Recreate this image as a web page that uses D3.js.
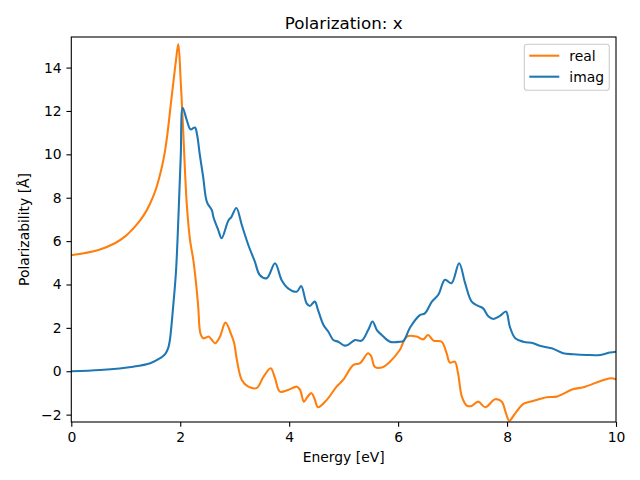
<!DOCTYPE html>
<html>
<head>
<meta charset="utf-8">
<script src="https://cdn.jsdelivr.net/npm/d3@7"></script>
<style>
  html, body { margin: 0; padding: 0; background: #fff; }
  svg { display: block; }
  text { font-family: "DejaVu Sans", sans-serif; fill: #000; }
</style>
</head>
<body>
<svg id="chart" width="640" height="480"></svg>
<script>
const title = "Polarization: x";
const xLabel = "Energy [eV]";
const yLabel = "Polarizability [Å]";
const seriesNames = ["real", "imag"];
const seriesColors = ["#ff7f0e", "#1f77b4"];
const xTicks = [0, 2, 4, 6, 8, 10];
const yTicks = [-2, 0, 2, 4, 6, 8, 10, 12, 14];

const realE = [0, 0.25, 0.5, 0.8, 1.0, 1.11, 1.2, 1.29, 1.37, 1.44, 1.5, 1.56, 1.62, 1.67, 1.72, 1.76, 1.80, 1.84, 1.88, 1.92, 1.965, 2.01, 2.045, 2.07, 2.12, 2.18, 2.24, 2.29, 2.33, 2.37, 2.42, 2.47, 2.52, 2.58, 2.64, 2.73, 2.83, 2.94, 2.99, 3.04, 3.13, 3.25, 3.40, 3.53, 3.66, 3.74, 3.83, 3.98, 4.14, 4.20, 4.27, 4.33, 4.41, 4.47, 4.53, 4.69, 4.87, 4.99, 5.18, 5.30, 5.45, 5.51, 5.57, 5.70, 5.85, 6.03, 6.16, 6.34, 6.46, 6.55, 6.65, 6.80, 6.89, 6.95, 7.04, 7.10, 7.17, 7.26, 7.35, 7.47, 7.60, 7.78, 7.90, 7.98, 8.04, 8.15, 8.30, 8.48, 8.73, 8.91, 9.22, 9.40, 9.77, 9.92, 10.0];
const realV = [5.35, 5.45, 5.59, 5.90, 6.24, 6.51, 6.76, 7.05, 7.36, 7.70, 8.04, 8.45, 8.98, 9.5, 10.15, 10.85, 11.7, 12.6, 13.45, 14.3, 15.08, 13.3, 11.6, 10.2, 7.7, 6.05, 5.13, 4.06, 2.98, 1.75, 1.52, 1.55, 1.6, 1.45, 1.29, 1.6, 2.24, 1.67, 1.3, 0.52, -0.40, -0.71, -0.78, -0.25, 0.14, -0.32, -0.94, -0.86, -0.71, -0.86, -1.40, -1.2, -1.01, -1.3, -1.66, -1.32, -0.71, -0.40, 0.29, 0.37, 0.83, 0.67, 0.21, 0.17, 0.44, 0.98, 1.60, 1.60, 1.47, 1.67, 1.41, 1.36, 0.83, 0.40, 0.44, -0.09, -1.17, -1.58, -1.60, -1.40, -1.66, -1.29, -1.40, -1.94, -2.28, -1.94, -1.51, -1.37, -1.20, -1.17, -0.82, -0.74, -0.40, -0.32, -0.37];

const imagE = [0, 0.53, 1.14, 1.45, 1.63, 1.72, 1.78, 1.81, 1.87, 1.92, 1.95, 1.98, 2.01, 2.045, 2.12, 2.19, 2.27, 2.31, 2.36, 2.42, 2.49, 2.58, 2.61, 2.70, 2.76, 2.88, 2.94, 3.03, 3.13, 3.25, 3.37, 3.46, 3.59, 3.74, 3.86, 3.98, 4.14, 4.22, 4.32, 4.38, 4.47, 4.53, 4.63, 4.72, 4.81, 4.90, 5.02, 5.10, 5.21, 5.33, 5.45, 5.53, 5.61, 5.70, 5.85, 6.03, 6.10, 6.22, 6.40, 6.49, 6.62, 6.74, 6.86, 6.98, 7.12, 7.23, 7.35, 7.47, 7.56, 7.66, 7.75, 7.87, 7.98, 8.05, 8.15, 8.30, 8.48, 8.60, 8.82, 9.03, 9.22, 9.46, 9.71, 9.89, 10.0];
const imagV = [0, 0.06, 0.21, 0.37, 0.60, 0.78, 1.08, 1.44, 2.98, 4.52, 6.05, 8.0, 9.97, 12.15, 11.58, 11.15, 11.24, 10.89, 9.97, 8.97, 7.8, 7.43, 7.1, 6.5, 6.13, 6.93, 7.12, 7.53, 6.74, 5.82, 5.05, 4.44, 4.29, 4.98, 4.21, 3.82, 3.67, 3.93, 3.13, 3.01, 3.21, 2.82, 2.13, 1.82, 1.44, 1.36, 1.18, 1.25, 1.44, 1.41, 1.90, 2.29, 1.90, 1.67, 1.36, 1.36, 1.40, 2.02, 2.59, 2.67, 3.21, 3.54, 4.22, 4.06, 4.98, 4.06, 3.21, 3.01, 2.90, 2.52, 2.41, 2.55, 2.75, 2.06, 1.52, 1.36, 1.29, 1.17, 1.06, 0.83, 0.78, 0.75, 0.75, 0.86, 0.90];

const svg = d3.select("#chart");
const L = 71.3, R = 616, T = 37, B = 422;

const x = d3.scaleLinear().domain([0, 10]).range([L, R]);
const y = d3.scaleLinear().domain([-2.34, 15.41]).range([B, T]);

const fmt = v => (v < 0 ? "\u2212" + Math.abs(v) : String(v));

const series = [
  { name: seriesNames[0], color: seriesColors[0], pts: realE.map((e, i) => [e, realV[i]]) },
  { name: seriesNames[1], color: seriesColors[1], pts: imagE.map((e, i) => [e, imagV[i]]) }
];
const line = d3.line().x(d => x(d[0])).y(d => y(d[1])).curve(d3.curveCatmullRom.alpha(0.5));

svg.append("defs").append("clipPath").attr("id", "clip")
  .append("rect").attr("x", L).attr("y", T).attr("width", R - L).attr("height", B - T);

const g = svg.append("g").attr("clip-path", "url(#clip)");
series.forEach(s => {
  g.append("path").datum(s.pts)
    .attr("d", line)
    .attr("fill", "none")
    .attr("stroke", s.color)
    .attr("stroke-width", 2.08)
    .attr("stroke-linejoin", "round")
    .attr("stroke-linecap", "square");
});

const xAxis = d3.axisBottom(x).tickValues(xTicks).tickFormat(fmt).tickSize(4.86).tickPadding(4.86);
const yAxis = d3.axisLeft(y).tickValues(yTicks).tickFormat(fmt).tickSize(4.86).tickPadding(4.86);

const gx = svg.append("g").attr("transform", `translate(0,${B})`).call(xAxis);
const gy = svg.append("g").attr("transform", `translate(${L},0)`).call(yAxis);
[gx, gy].forEach(a => {
  a.select(".domain").remove();
  a.selectAll(".tick line").attr("stroke", "#000").attr("stroke-width", 1.1);
  a.selectAll(".tick text").attr("font-family", "DejaVu Sans").attr("font-size", 13.9).attr("fill", "#000");
});

svg.append("rect").attr("x", L).attr("y", T).attr("width", R - L).attr("height", B - T)
  .attr("fill", "none").attr("stroke", "#000").attr("stroke-width", 1.1);

svg.append("text").attr("x", (L + R) / 2).attr("y", 29).attr("text-anchor", "middle")
  .attr("font-size", 16.7).text(title);
svg.append("text").attr("x", (L + R) / 2).attr("y", 462).attr("text-anchor", "middle")
  .attr("font-size", 13.9).text(xLabel);
svg.append("text").attr("transform", `translate(29,${(T + B) / 2}) rotate(-90)`)
  .attr("text-anchor", "middle").attr("font-size", 13.9).text(yLabel);

const lg = svg.append("g");
lg.append("rect").attr("x", 524.3).attr("y", 44.3).attr("width", 85).attr("height", 46)
  .attr("rx", 2.8).attr("fill", "#fff").attr("fill-opacity", 0.8)
  .attr("stroke", "#cccccc").attr("stroke-width", 1.1);
series.forEach((s, i) => {
  const yy = 55.7 + i * 21;
  lg.append("line").attr("x1", 529.3).attr("x2", 559.3).attr("y1", yy).attr("y2", yy)
    .attr("stroke", s.color).attr("stroke-width", 2.08);
  lg.append("text").attr("x", 569.3).attr("y", yy + 5).attr("font-size", 13.9).text(s.name);
});
</script>
</body>
</html>
